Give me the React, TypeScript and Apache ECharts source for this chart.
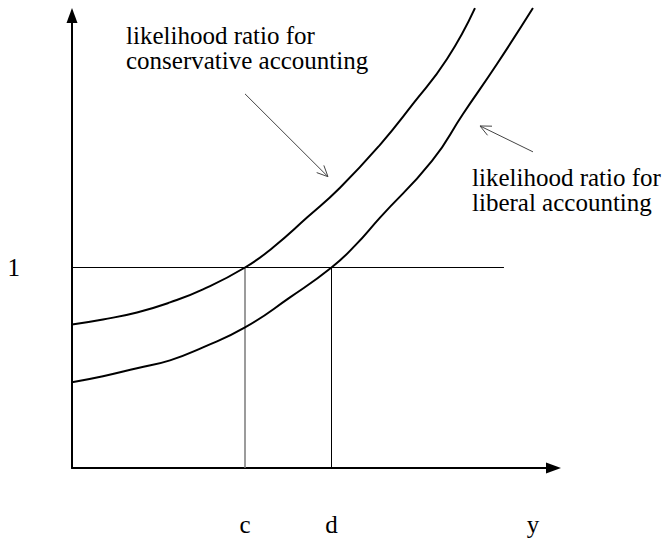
import React, { useEffect, useRef } from "react";
import * as echarts from "echarts";

// ---- data (x in arbitrary units, y = likelihood ratio, 1 = reference level) ----
const CONS_X = [0, 0.634, 1.329, 2.004, 2.679, 3.538, 4.11, 4.806, 5.481, 6.299, 6.973, 7.669, 8.241];
const CONS_Y = [0.716, 0.741, 0.776, 0.826, 0.891, 1.0, 1.1, 1.249, 1.398, 1.612, 1.816, 2.04, 2.294];

const LIB_X = [0, 0.634, 1.329, 2.004, 2.679, 3.538, 4.458, 5.307, 5.787, 6.299, 7.362, 7.996, 8.691, 9.427];
const LIB_Y = [0.428, 0.458, 0.498, 0.537, 0.602, 0.701, 0.851, 1.0, 1.109, 1.249, 1.532, 1.766, 2.015, 2.294];

const C_VAL = 3.538;
const D_VAL = 5.307;
const REF_Y = 1;
const REF_END_X = 8.834;

const X_TICK_VALUES = [C_VAL, D_VAL, 9.427];
const X_TICK_LABELS = ["c", "d", "y"];
const Y_TICK_VALUES = [1];
const Y_TICK_LABELS = ["1"];

// annotation arrows, data coordinates [tail, tip]
const ARROW_CONS = [[3.538, 1.866], [5.235, 1.453]];
const ARROW_LIB = [[9.427, 1.577], [8.344, 1.706]];

const TEXT_CONS = ["likelihood ratio for", "conservative accounting"];
const TEXT_LIB = ["likelihood ratio for", "liberal accounting"];

const X_MAX = 9.847;
const Y_MAX = 2.257;

const FONT = "'Liberation Serif', 'Times New Roman', serif";

function zip(xs: number[], ys: number[]) {
  return xs.map((x, i) => [x, ys[i]]);
}

function labelFor(values: number[], labels: string[], v: number) {
  let best = 0;
  let bd = Infinity;
  values.forEach((val, i) => {
    const d = Math.abs(val - v);
    if (d < bd) {
      bd = d;
      best = i;
    }
  });
  return bd < 1e-6 ? labels[best] : "";
}

export default function App() {
  const ref = useRef<HTMLDivElement>(null);

  useEffect(() => {
    if (!ref.current) return;
    const chart = echarts.init(ref.current, undefined, { renderer: "svg" });

    const lineSeries = (data: number[][], color: string, width: number, smooth: boolean | number = false) => ({
      type: "line",
      data,
      smooth,
      symbol: "none",
      silent: true,
      clip: false,
      lineStyle: { color, width },
    });

    chart.setOption({
      animation: false,
      grid: { left: 72, right: 108.5, top: 15.5, bottom: 74, containLabel: false },
      xAxis: {
        type: "value",
        min: 0,
        max: X_MAX,
        axisLine: {
          show: true,
          onZero: false,
          symbol: ["none", "triangle"],
          symbolSize: [11, 15],
          lineStyle: { color: "#000", width: 2 },
        },
        axisTick: { show: false },
        splitLine: { show: false },
        axisLabel: {
          customValues: X_TICK_VALUES,
          formatter: (v: number) => labelFor(X_TICK_VALUES, X_TICK_LABELS, v),
          margin: 44,
          fontSize: 25,
          fontFamily: FONT,
          color: "#000",
        },
      },
      yAxis: {
        type: "value",
        min: 0,
        max: Y_MAX,
        axisLine: {
          show: true,
          onZero: false,
          symbol: ["none", "triangle"],
          symbolSize: [11, 15],
          lineStyle: { color: "#000", width: 2 },
        },
        axisTick: { show: false },
        splitLine: { show: false },
        axisLabel: {
          customValues: Y_TICK_VALUES,
          formatter: (v: number) => labelFor(Y_TICK_VALUES, Y_TICK_LABELS, v),
          margin: 52,
          fontSize: 25,
          fontFamily: FONT,
          color: "#000",
          padding: [0, 0, 5, 0],
        },
      },
      series: [
        lineSeries([[0, REF_Y], [REF_END_X, REF_Y]], "#000", 1),
        lineSeries([[C_VAL, 0], [C_VAL, REF_Y]], "#7a7a7a", 1.5),
        lineSeries([[D_VAL, 0], [D_VAL, REF_Y]], "#000", 1),
        lineSeries(zip(CONS_X, CONS_Y), "#000", 2, 0.5),
        lineSeries(zip(LIB_X, LIB_Y), "#000", 2, 0.5),
      ],
    });

    const px = (p: number[]) => chart.convertToPixel({ gridIndex: 0 }, p) as number[];

    const arrow = (a: number[][]) => {
      const t = px(a[0]);
      const h = px(a[1]);
      const ang = Math.atan2(h[1] - t[1], h[0] - t[0]);
      const len = 12;
      const spread = (25 * Math.PI) / 180;
      const a1 = [h[0] - len * Math.cos(ang - spread), h[1] - len * Math.sin(ang - spread)];
      const a2 = [h[0] - len * Math.cos(ang + spread), h[1] - len * Math.sin(ang + spread)];
      const style = { stroke: "#444", lineWidth: 1, fill: null };
      return [
        { type: "line", shape: { x1: t[0], y1: t[1], x2: h[0], y2: h[1] }, style },
        { type: "polyline", shape: { points: [a1, h, a2] }, style },
      ];
    };

    const text = (lines: string[], x: number, y: number) => ({
      type: "text",
      x,
      y,
      style: {
        text: lines.join("\n"),
        fontSize: 25,
        lineHeight: 25,
        fontFamily: FONT,
        fill: "#000",
        align: "left",
        verticalAlign: "top",
      },
    });

    chart.setOption({
      graphic: [
        ...arrow(ARROW_CONS),
        ...arrow(ARROW_LIB),
        text(TEXT_CONS, 126, 23),
        text(TEXT_LIB, 472, 165),
      ],
    });

    return () => chart.dispose();
  }, []);

  return (
    <div
      ref={ref}
      style={{ position: "fixed", left: 0, top: 0, width: 662, height: 542, background: "#fff" }}
    />
  );
}
